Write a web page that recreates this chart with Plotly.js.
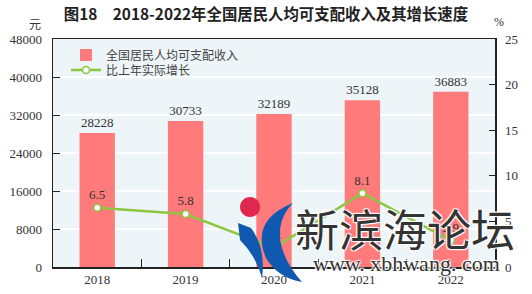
<!DOCTYPE html>
<html><head><meta charset="utf-8">
<script src="https://cdn.plot.ly/plotly-3.0.1.min.js"></script>
<style>body{margin:0;background:#fff}#c{width:532px;height:294px}</style>
</head><body><div id="c"></div>
<script>
const years = ['2018','2019','2020','2021','2022'];
const income = [28228, 30733, 32189, 35128, 36883];
const growth = [6.5, 5.8, 2.1, 8.1, 2.9];
const growthLabels = ['6.5','5.8','2.1','8.1','2.9'];
const leftTicks = [0,8000,16000,24000,32000,40000,48000];
const rightTicks = [0,5,10,15,20,25];

const L=53, R=495, T=39, B=267;
const px = x => (x-L)/(R-L);
const py = y => (B-y)/(B-T);
function path(cmds){
  return cmds.map(c=>{let s=c[0];for(let i=1;i<c.length;i+=2){s+=' '+px(c[i]).toFixed(4)+','+py(c[i+1]).toFixed(4);}return s;}).join(' ')+' Z';
}
function circ(cx, cy, r){
  const k = 0.5523*r;
  return path([['M',cx-r,cy],['C',cx-r,cy-k,cx-k,cy-r,cx,cy-r],['C',cx+k,cy-r,cx+r,cy-k,cx+r,cy],
               ['C',cx+r,cy+k,cx+k,cy+r,cx,cy+r],['C',cx-k,cy+r,cx-r,cy+k,cx-r,cy]]);
}
const serif = 'Liberation Serif, Times New Roman, serif';
const cjk = 'Noto Sans CJK SC, sans-serif';
const halo = 'white 1px 1px 1px, white -1px -1px 1px, white 1px -1px 1px, white -1px 1px 1px';

const data = [
  {type:'bar', x:years, y:income, name:'全国居民人均可支配收入', width:0.4, legend:'legend',
   marker:{color:'#ff7a7a'}, text:income.map(String), textposition:'outside',
   textfont:{family:serif, size:13, color:'#333'}, cliponaxis:false, yaxis:'y'},
  {type:'scatter', mode:'lines+markers+text', x:years, y:growth, name:'比上年实际增长', yaxis:'y2', legend:'legend2',
   line:{color:'#8dc63f', width:2.5}, marker:{size:7, color:'#fff', line:{color:'#8dc63f', width:1.5}},
   text:growthLabels, textposition:'top center', textfont:{family:serif, size:13, color:'#333'}, cliponaxis:false}
];

const ann = (text, x, y, font) => ({text, xref:'paper', yref:'paper', x:px(x), y:py(y), xanchor:'center', yanchor:'middle', showarrow:false, font});

const layout = {
  width:532, height:294, margin:{l:L, r:532-R, t:T, b:294-B},
  paper_bgcolor:'#fff', plot_bgcolor:'#edf5f8', showlegend:true,
  title:{text:'<b>图18　2018-2022年全国居民人均可支配收入及其增长速度</b>', x:0.5, xanchor:'center', y:1-15/294, yanchor:'middle',
    font:{family:cjk, size:15.4, color:'#222'}},
  legend:{x:px(66), y:py(55), xanchor:'left', yanchor:'middle', bgcolor:'rgba(0,0,0,0)',
    font:{family:cjk, size:12, color:'#444'}, itemwidth:30},
  legend2:{x:px(66), y:py(70), xanchor:'left', yanchor:'middle', bgcolor:'rgba(0,0,0,0)',
    font:{family:cjk, size:12, color:'#444'}, itemwidth:30},
  bargap:0.6,
  xaxis:{type:'category', showline:true, linecolor:'#222', linewidth:1.5, mirror:true,
    ticks:'inside', tickson:'boundaries', ticklen:8, tickcolor:'#222', showgrid:false,
    tickfont:{family:serif, size:13, color:'#333'}, fixedrange:true},
  yaxis:{range:[0,48000], tickvals:leftTicks, ticktext:leftTicks.map(String), showline:true, linecolor:'#222', linewidth:1.5,
    ticks:'inside', ticklen:7, tickcolor:'#222', showgrid:true, gridcolor:'#ffffff', gridwidth:1.5, zeroline:false,
    tickfont:{family:serif, size:13, color:'#333'}, ticklabelstandoff:7},
  yaxis2:{range:[0,25], tickvals:rightTicks, ticktext:rightTicks.map(String), overlaying:'y', side:'right', showline:true, linecolor:'#222', linewidth:1.5,
    ticks:'inside', ticklen:6, tickcolor:'#222', showgrid:false, zeroline:false,
    tickfont:{family:serif, size:13, color:'#333'}, ticklabelstandoff:6},
  annotations:[
    ann('元', 35, 23, {family:cjk, size:12, color:'#333'}),
    ann('%', 499, 22, {family:serif, size:12, color:'#333'}),
    ann('新滨海论坛', 405, 228, {family:cjk, size:44, color:'#333', shadow:halo}),
    ann('www. xbhwang. com', 406, 263, {family:serif, size:22, color:'#333', shadow:halo})
  ],
  shapes:[
    {type:'path', xref:'paper', yref:'paper', layer:'above', fillcolor:'#e0284f', line:{width:0}, path:circ(250,207,10)},
    {type:'path', xref:'paper', yref:'paper', layer:'above', fillcolor:'#1059b0', line:{width:0},
     path:path([['M',238,223],['L',251,228],['Q',266,248,262,278],['Q',256,256,240,240]])},
    {type:'path', xref:'paper', yref:'paper', layer:'above', fillcolor:'#1059b0', line:{width:0},
     path:path([['M',293,203],['Q',250,220,266,258],['Q',278,278,302,282],['Q',284,262,280,240],['Q',278,218,293,203]])}
  ]
};
Plotly.newPlot('c', data, layout, {displayModeBar:false, staticPlot:true});
</script></body></html>
